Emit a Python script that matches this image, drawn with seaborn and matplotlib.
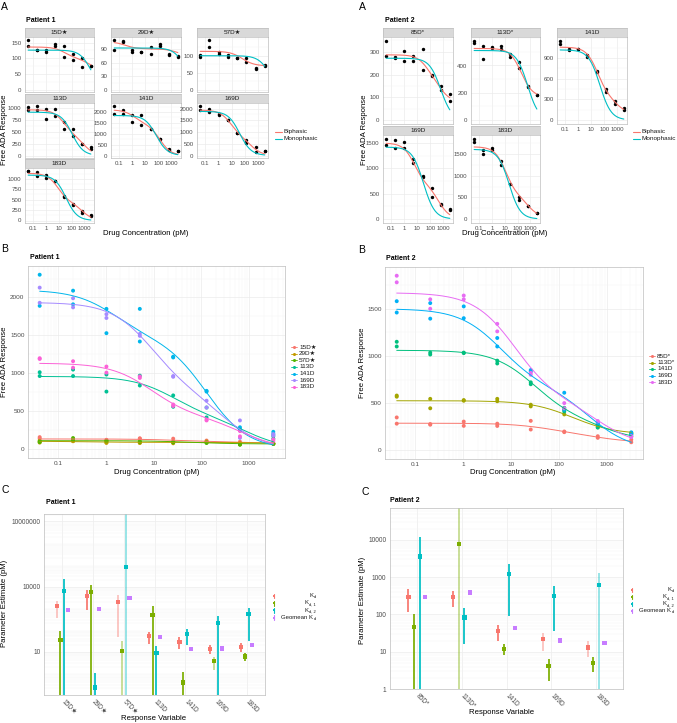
import numpy as np
import pandas as pd
import matplotlib
matplotlib.use("Agg")
import matplotlib.pyplot as plt
import seaborn as sns
from matplotlib.lines import Line2D
from matplotlib.ticker import FixedLocator, LogLocator, NullFormatter, AutoMinorLocator

# ---------------- data ----------------
conc = [0.04096, 0.2048, 1.024, 5.12, 25.6, 128, 640, 3200]

# Patient 1, duplicate responses per concentration
p1_days = ["15D★", "29D★", "57D★", "113D", "141D", "169D", "183D"]
p1_15D = [(160, 140), (128, 125), (125, 120), (145, 138), (140, 103), (115, 95), (100, 73), (76, 74)]
p1_29D = [(112, 88), (108, 106), (88, 85), (84, 84), (95, 79), (102, 98), (80, 78), (76, 73)]
p1_57D = [(103, 95), (148, 125), (110, 105), (103, 96), (93, 92), (92, 82), (63, 60), (73, 70)]
p1_113D = [(1015, 965), (1050, 965), (985, 760), (970, 840), (710, 560), (550, 420), (250, 250), (175, 140)]
p1_141D = [(2300, 1890), (2090, 1910), (1850, 1530), (1850, 1420), (1220, 1210), (770, 760), (290, 265), (230, 200)]
p1_169D = [(2130, 1930), (1990, 1870), (1780, 1730), (1520, 1495), (965, 955), (640, 550), (380, 150), (200, 180)]
p1_183D = [(1200, 1190), (1160, 1075), (1090, 1010), (960, 940), (590, 570), (390, 380), (240, 170), (130, 110)]
p1_resp = [p1_15D, p1_29D, p1_57D, p1_113D, p1_141D, p1_169D, p1_183D]

# Patient 2
p2_days = ["85D*", "113D*", "141D", "169D", "183D"]
p2_85D = [(348, 282), (278, 271), (304, 259), (282, 258), (312, 220), (199, 192), (149, 132), (113, 85)]
p2_113D = [(580, 568), (545, 445), (532, 525), (545, 520), (483, 465), (427, 380), (250, 245), (183, 180)]
p2_141D = [(1150, 1100), (1035, 1015), (1035, 1030), (950, 920), (720, 700), (450, 410), (270, 240), (170, 150)]
p2_169D = [(1580, 1460), (1560, 1395), (1525, 1400), (1190, 1100), (850, 835), (610, 430), (290, 280), (190, 170)]
p2_183D = [(1850, 1780), (1600, 1500), (1640, 1600), (1340, 1260), (820, 800), (500, 445), (310, 300), (150, 140)]
p2_resp = [p2_85D, p2_113D, p2_141D, p2_169D, p2_183D]

# fitted curve parameters (biphasic: top, bottom, fraction, K1, K2; monophasic: top, K)
p1_bi_top = [136, 107, 113, 960, 2100, 1935, 1135]
p1_bi_bottom = [65, 75, 70, 0, 0, 0, 0]
p1_bi_frac = [0.5, 0.5, 0.5, 0.55, 0.3, 0.6, 0.62]
p1_bi_k1 = [30, 0.3, 40, 25, 1.5, 9, 9]
p1_bi_k2 = [2000, 3000, 100, 900, 130, 300, 700]
p1_mono_top = [126, 93, 100, 910, 1840, 1880, 1090]
p1_mono_k = [3200, 13000, 7000, 110, 70, 40, 37]

p2_bi_top = [287, 525, 1060, 1500, 1670]
p2_bi_bottom = [80, 170, 100, 0, 40]
p2_bi_frac = [0.5, 0.5, 0.75, 0.55, 0.7]
p2_bi_k1 = [60, 150, 30, 6, 12]
p2_bi_k2 = [600, 250, 800, 450, 700]
p2_mono_top = [272, 510, 1020, 1420, 1610]
p2_mono_k = [634, 600, 46, 30, 22]

# parameter estimates (pM), 0 lower bound = interval reaches below the axis
p1_kd = [1290, 3800, 2000, 53, 28, 13, 17]
p1_kd_lo = [370, 830, 46, 22, 13, 7.6, 9.3]
p1_kd_hi = [2200, 7100, 4000, 81, 46, 20, 26]
p1_kd1 = [33, 5500, 10.4, 490, 0.38, 3.7, 5.9]
p1_kd1_lo = [0, 0, 0, 0, 0, 1.4, 3.5]
p1_kd1_hi = [93, 11200, 31, 1200, 1.1, 5.9, 8.3]
p1_kd2 = [6000, 0.22, 78000, 8.4, 63, 200, 520]
p1_kd2_lo = [0, 0, 0, 0, 20, 0, 31]
p1_kd2_hi = [22000, 1.0, 1e9, 18, 112, 420, 1070]
p1_geo = [830, 940, 2900, 46, 13, 14, 20]

p2_kd = [300, 290, 36, 22, 13]
p2_kd_lo = [115, 155, 20, 10.7, 7.2]
p2_kd_hi = [490, 425, 51, 32, 19]
p2_kd1 = [45, 7600, 12, 4.1, 5]
p2_kd1_lo = [0, 0, 8, 1.6, 2.9]
p2_kd1_hi = [100, 1e9, 16, 6.3, 7.2]
p2_kd2 = [3600, 83, 1200, 316, 620]
p2_kd2_lo = [0, 16, 93, 35, 0]
p2_kd2_hi = [11700, 148, 2290, 589, 1320]
p2_geo = [300, 390, 43, 20, 17]

# ---------------- style ----------------
sns.set_theme(style="white")
plt.rcParams["font.family"] = ["Liberation Sans", "DejaVu Sans"]
plt.rcParams["mathtext.fontset"] = "custom"
plt.rcParams["mathtext.rm"] = "Liberation Sans"

W, H = 677, 723
BORDER = "#BDBDBD"
STRIP = "#D9D9D9"
GRID = "#EBEBEB"
GRID_MINOR = "#F5F5F5"
TICK = "#4D4D4D"
FIT_COLORS = {"Biphasic": "#F8766D", "Monophasic": "#00BFC4"}
HUE7 = ["#F8766D", "#C49A00", "#53B400", "#00C094", "#00B6EB", "#A58AFF", "#FB61D7"]
HUE5 = ["#F8766D", "#A3A500", "#00BF7D", "#00B0F6", "#E76BF3"]
PARAM_COLORS = ["#F8766D", "#7CAE00", "#00BFC4", "#C77CFF"]
# legend labels: (main text, subscript)
PARAM_LABELS = [("K", "d"), ("K", "d, 1"), ("K", "d, 2"), ("Geomean K", "d")]
p1_faded = [(0, 0), (0, 2), (1, 2), (2, 2), (1, 5)]
p2_faded = [(0, 3), (0, 4), (2, 4), (1, 1)]

XLO = 10 ** (np.log10(conc[0]) - 0.05 * np.log10(conc[-1] / conc[0]))
XHI = 10 ** (np.log10(conc[-1]) + 0.05 * np.log10(conc[-1] / conc[0]))
XS = np.logspace(np.log10(conc[0]), np.log10(conc[-1]), 200)


def biphasic(x, top, bottom, frac, k1, k2):
    return bottom + (top - bottom) * (frac / (1 + x / k1) + (1 - frac) / (1 + x / k2))


def mono(x, top, k):
    return top / (1 + x / k)


fig = plt.figure(figsize=(W / 100, H / 100), dpi=100)


def px(x0, y0, x1, y1):
    return [x0 / W, 1 - y1 / H, (x1 - x0) / W, (y1 - y0) / H]


def ftext(x, y, s, **kw):
    return fig.text(x / W, 1 - y / H, s, **kw)


def style_axis(ax, fs=4.4):
    ax.set_facecolor("white")
    for s in ax.spines.values():
        s.set_color(BORDER)
        s.set_linewidth(0.5)
    ax.grid(True, which="major", color=GRID, lw=0.5)
    ax.grid(True, which="minor", color=GRID_MINOR, lw=0.35)
    ax.set_axisbelow(True)
    ax.tick_params(which="major", length=1.5, width=0.4, color="#333333",
                   labelsize=fs, labelcolor=TICK, pad=1)
    ax.tick_params(which="minor", length=0)
    ax.set_xlabel("")
    ax.set_ylabel("")


def log_x(ax, labels=True):
    ax.set_xscale("log")
    ax.set_xlim(XLO, XHI)
    ax.xaxis.set_major_locator(FixedLocator([0.1, 1, 10, 100, 1000]))
    ax.xaxis.set_minor_locator(LogLocator(base=10, subs=np.arange(2, 10)))
    ax.xaxis.set_minor_formatter(NullFormatter())
    if labels:
        ax.set_xticklabels(["0.1", "1", "10", "100", "1000"])
    else:
        ax.set_xticklabels([])


def lin_y(ax, top, step):
    ax.set_ylim(-0.05 * top, 1.05 * top)
    ticks = np.arange(0, top + 1e-9, step)
    ax.yaxis.set_major_locator(FixedLocator(ticks))
    ax.set_yticklabels([f"{t:g}" for t in ticks])
    ax.yaxis.set_minor_locator(AutoMinorLocator(2))


# ---------------- panel A: facets ----------------
def facet(rect, label, pairs, bi, mp, step, xlabels):
    x0, y0, x1, y1 = rect
    sax = fig.add_axes(px(x0, y0 - 9, x1, y0))
    sax.set_facecolor(STRIP)
    sax.set_xticks([])
    sax.set_yticks([])
    for s in sax.spines.values():
        s.set_color(BORDER)
        s.set_linewidth(0.5)
    sax.text(0.5, 0.45, label, ha="center", va="center", fontsize=4.6,
             color="#1A1A1A", transform=sax.transAxes)

    ax = fig.add_axes(px(*rect))
    pts = pd.DataFrame({"conc": np.repeat(conc, 2), "resp": np.ravel(pairs)})
    curves = pd.DataFrame({
        "conc": np.r_[XS, XS],
        "resp": np.r_[biphasic(XS, *bi), mono(XS, *mp)],
        "model": ["Biphasic"] * len(XS) + ["Monophasic"] * len(XS),
    })
    sns.scatterplot(data=pts, x="conc", y="resp", color="black", s=6,
                    linewidth=0, ax=ax, zorder=3)
    sns.lineplot(data=curves, x="conc", y="resp", hue="model", palette=FIT_COLORS,
                 estimator=None, legend=False, lw=0.8, ax=ax, zorder=4)
    style_axis(ax)
    log_x(ax, xlabels)
    lin_y(ax, max(pts.resp.max(), curves.resp.max()), step)


p1_cells = [(0, 0), (0, 1), (0, 2), (1, 0), (1, 1), (1, 2), (2, 0)]
p1_cols = [(25, 94), (111, 181), (197, 268)]
p1_rows = [(37, 92), (103, 158), (168, 223)]
p1_steps = [50, 30, 50, 250, 500, 500, 250]
p1_xlab = [False, False, False, False, True, True, True]
for i, (r, c) in enumerate(p1_cells):
    facet((p1_cols[c][0], p1_rows[r][0], p1_cols[c][1], p1_rows[r][1]), p1_days[i], p1_resp[i],
          (p1_bi_top[i], p1_bi_bottom[i], p1_bi_frac[i], p1_bi_k1[i], p1_bi_k2[i]),
          (p1_mono_top[i], p1_mono_k[i]), p1_steps[i], p1_xlab[i])

p2_cells = [(0, 0), (0, 1), (0, 2), (1, 0), (1, 1)]
p2_cols = [(383, 453), (471, 540), (557, 627)]
p2_rows = [(37, 124), (135, 223)]
p2_steps = [100, 200, 300, 500, 500]
p2_xlab = [False, False, True, True, True]
for i, (r, c) in enumerate(p2_cells):
    facet((p2_cols[c][0], p2_rows[r][0], p2_cols[c][1], p2_rows[r][1]), p2_days[i], p2_resp[i],
          (p2_bi_top[i], p2_bi_bottom[i], p2_bi_frac[i], p2_bi_k1[i], p2_bi_k2[i]),
          (p2_mono_top[i], p2_mono_k[i]), p2_steps[i], p2_xlab[i])


def line_legend(x, y0, dy, items):
    for j, (lab, col) in enumerate(items):
        y = y0 + j * dy
        fig.add_artist(Line2D([x / W, (x + 7) / W], [1 - y / H, 1 - y / H], color=col, lw=0.8))
        ftext(x + 9, y, lab, fontsize=4.6, va="center", ha="left", color="#1A1A1A")


line_legend(275, 132, 6.5, list(FIT_COLORS.items()))
line_legend(633, 132, 6.5, list(FIT_COLORS.items()))


# ---------------- panel B: overlays ----------------
def overview(rect, days, resp, tops, bottoms, fracs, k1s, k2s, palette, step):
    ax = fig.add_axes(px(*rect))
    pts = pd.DataFrame({
        "conc": np.tile(np.repeat(conc, 2), len(days)),
        "resp": np.concatenate([np.ravel(r) for r in resp]),
        "day": np.repeat(days, 16),
    })
    curves = pd.DataFrame({
        "conc": np.tile(XS, len(days)),
        "resp": np.concatenate([biphasic(XS, tops[i], bottoms[i], fracs[i], k1s[i], k2s[i])
                                for i in range(len(days))]),
        "day": np.repeat(days, len(XS)),
    })
    pal = dict(zip(days, palette))
    sns.scatterplot(data=pts, x="conc", y="resp", hue="day", palette=pal, s=8,
                    linewidth=0, legend=False, ax=ax, zorder=3)
    sns.lineplot(data=curves, x="conc", y="resp", hue="day", palette=pal,
                 estimator=None, legend=False, lw=0.7, ax=ax, zorder=4)
    style_axis(ax, 4.6)
    log_x(ax)
    lin_y(ax, max(pts.resp.max(), curves.resp.max()), step)
    return pal


def point_legend(x, y0, dy, pal):
    for j, (lab, col) in enumerate(pal.items()):
        y = y0 + j * dy
        fig.add_artist(Line2D([(x - 3) / W, (x + 3) / W], [1 - y / H, 1 - y / H], color=col, lw=0.6))
        fig.add_artist(Line2D([x / W], [1 - y / H], color=col, marker="o", ms=2.2, mew=0))
        ftext(x + 5, y, lab, fontsize=4.6, va="center", ha="left", color="#1A1A1A")


pal1 = overview((28, 266, 285, 458), p1_days, p1_resp, p1_bi_top, p1_bi_bottom,
                p1_bi_frac, p1_bi_k1, p1_bi_k2, HUE7, 500)
point_legend(294, 347.3, 6.56, pal1)
pal2 = overview((385, 267, 643, 459), p2_days, p2_resp, p2_bi_top, p2_bi_bottom,
                p2_bi_frac, p2_bi_k1, p2_bi_k2, HUE5, 500)
point_legend(652, 356, 6.5, pal2)


# ---------------- panel C: estimates ----------------
def estimates(rect, days, est, lo, hi, faded, ylim, yticks):
    ax = fig.add_axes(px(*rect))
    n = len(days)
    offsets = [-0.1875, -0.0625, 0.0625, 0.1875]
    rows = []
    for p in range(4):
        for i in range(n):
            rows.append({"x": i + 1 + offsets[p], "grp": i, "est": est[p][i], "param": p,
                         "lo": lo[p][i] if lo[p] is not None else np.nan,
                         "hi": hi[p][i] if hi[p] is not None else np.nan})
    df = pd.DataFrame(rows)
    for _, r in df.dropna().iterrows():
        a = 0.45 if (int(r.param), int(r.grp)) in faded else 1.0
        lo_v = r.lo if r.lo > 0 else ylim[0] / 100
        ax.plot([r.x, r.x], [lo_v, r.hi], color=PARAM_COLORS[int(r.param)], lw=1.25,
                alpha=a, solid_capstyle="butt", zorder=2)
    sns.scatterplot(data=df, x="x", y="est", hue="param", palette=dict(enumerate(PARAM_COLORS)),
                    s=9, linewidth=0, marker="s", legend=False, ax=ax, zorder=3)
    style_axis(ax, 4.8)
    ax.set_yscale("log")
    ax.set_ylim(*ylim)
    ax.yaxis.set_major_locator(FixedLocator(yticks))
    ax.set_yticklabels([f"{t:g}" if t < 1e5 else f"{int(t)}" for t in yticks])
    ax.yaxis.set_minor_locator(LogLocator(base=10, subs=np.arange(2, 10), numticks=20))
    ax.yaxis.set_minor_formatter(NullFormatter())
    ax.set_xlim(0.4, n + 0.6)
    ax.xaxis.set_major_locator(FixedLocator(np.arange(1, n + 1)))
    ax.xaxis.set_minor_locator(FixedLocator([]))
    ax.set_xticklabels(days, rotation=-45, ha="left", va="center", rotation_mode="anchor")
    ax.tick_params(axis="x", pad=3)
    return ax


estimates((44, 514, 265, 695), p1_days,
          [p1_kd, p1_kd1, p1_kd2, p1_geo],
          [p1_kd_lo, p1_kd1_lo, p1_kd2_lo, None],
          [p1_kd_hi, p1_kd1_hi, p1_kd2_hi, None],
          p1_faded, (0.1, 2.2e7), [10, 10000, 10000000])
estimates((390, 508, 623, 689), p2_days,
          [p2_kd, p2_kd1, p2_kd2, p2_geo],
          [p2_kd_lo, p2_kd1_lo, p2_kd2_lo, None],
          [p2_kd_hi, p2_kd1_hi, p2_kd2_hi, None],
          p2_faded, (1, 7.2e4), [1, 10, 100, 1000, 10000])


def range_legend(x, xr, y0, dy):
    # right-aligned labels: subscript drawn as its own small text at the right edge,
    # main text right-aligned against it
    renderer = fig.canvas.get_renderer()
    for j, ((main, sub), col) in enumerate(zip(PARAM_LABELS, PARAM_COLORS)):
        y = y0 + j * dy
        fig.add_artist(Line2D([x / W, x / W], [1 - (y - 2.3) / H, 1 - (y + 2.3) / H], color=col, lw=0.8))
        fig.add_artist(Line2D([x / W], [1 - y / H], color=col, marker="s", ms=2.0, mew=0))
        st = ftext(xr, y + 1.3, sub, fontsize=3.0, va="center", ha="right", color="#1A1A1A")
        sw = st.get_window_extent(renderer).width
        ftext(xr - sw - 0.3, y - 0.4, main, fontsize=4.3, va="center", ha="right", color="#1A1A1A")


range_legend(274, 316, 596, 7.2)
range_legend(632, 674, 590, 7.0)

# ---------------- titles and labels ----------------
for (x, y, s) in [(1, 7, "A"), (359, 7, "A"), (1, 249, "B"), (358, 250, "B"), (1, 490, "C"), (361, 492, "C")]:
    ftext(x, y, s, fontsize=7.5, ha="left", va="center", color="black")
for (x, y, s) in [(26, 20, "Patient 1"), (385, 21, "Patient 2"), (30, 257, "Patient 1"),
                  (386, 258, "Patient 2"), (46, 503, "Patient 1"), (390, 501, "Patient 2")]:
    ftext(x, y, s, fontsize=5.0, ha="left", va="center", fontweight="bold", color="black")

lab_kw = dict(fontsize=5.6, color="black", ha="center", va="center")
ftext(146, 234, "Drug Concentration (pM)", **lab_kw)
ftext(505, 234, "Drug Concentration (pM)", **lab_kw)
ftext(157, 472, "Drug Concentration (pM)", **lab_kw)
ftext(513, 472, "Drug Concentration (pM)", **lab_kw)
ftext(154, 719, "Response Variable", **lab_kw)
ftext(502, 713, "Response Variable", **lab_kw)
ftext(5, 130, "Free ADA Response", rotation=90, **lab_kw)
ftext(364, 130, "Free ADA Response", rotation=90, **lab_kw)
ftext(5, 362, "Free ADA Response", rotation=90, **lab_kw)
ftext(362, 363, "Free ADA Response", rotation=90, **lab_kw)
ftext(5, 603, "Parameter Estimate (pM)", rotation=90, **lab_kw)
ftext(362, 600, "Parameter Estimate (pM)", rotation=90, **lab_kw)

fig.savefig("out.png", dpi=100, facecolor="white")
